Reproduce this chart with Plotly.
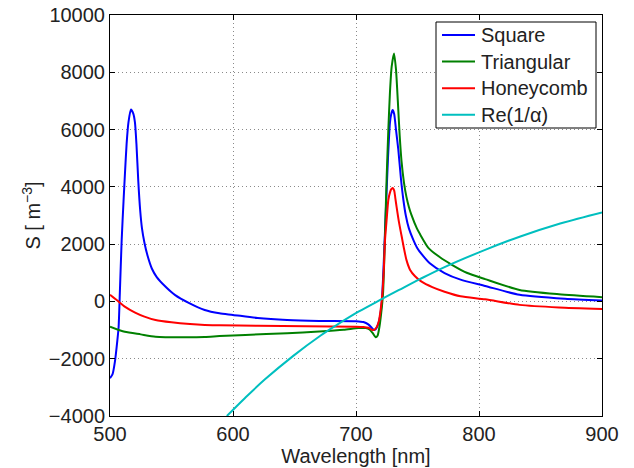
import plotly.graph_objects as go

# ---- data ----
square_wl = [500, 502, 504, 506, 507, 508, 509.5, 511, 512.2, 513.5, 515, 517, 519, 520.3, 521.5, 523,
             524.5, 526, 528, 530.5, 534, 538, 545, 553, 564, 577, 589, 600, 620, 644, 670, 700,
             706, 710, 713, 714.5, 716, 718, 719.5, 721, 722.5, 724.4, 726, 727.6, 728.7, 729.8,
             731, 732.5, 734.4, 736.5, 738.5, 740.5, 743, 746.6, 750, 753.4, 760, 772, 785, 805,
             833, 870, 900]
square_s = [-2680, -2550, -2100, -1350, -900, 300, 2150, 3500, 4500, 5500, 6250, 6700, 6550, 6240, 5500, 4200,
            3200, 2550, 2050, 1600, 1150, 850, 520, 220, -50, -300, -415, -470, -580, -650, -680, -690,
            -720, -800, -930, -1000, -970, -800, -530, 0, 1300, 3320, 5000, 6240, 6550, 6680,
            6550, 6000, 5300, 4300, 3550, 3000, 2550, 2150, 1850, 1650, 1330, 990, 760, 540,
            230, 90, 30]

tri_wl = [500, 512, 525, 537, 560, 577, 589, 610, 644, 670, 690, 702, 708, 711, 713.5, 716, 717.5,
          719, 720.5, 722, 723.5, 724.9, 726.3, 727.6, 729, 730.9, 732.5, 734, 735.5, 737, 739, 741,
          743, 745, 749.5, 752, 759, 768, 778, 790, 805, 833, 865, 900]
tri_s = [-880, -1060, -1150, -1230, -1250, -1240, -1210, -1170, -1110, -1050, -990, -930, -930, -980,
         -1100, -1250, -1200, -900, -400, 300, 2200, 4300, 6000, 7300, 8200, 8660, 8100, 7000, 5800,
         4900, 4150, 3650, 3300, 3030, 2550, 2350, 1860, 1550, 1280, 1000, 780, 400, 250, 150]

honey_wl = [500, 506, 512, 520, 528, 537, 550, 565, 577, 589, 620, 660, 700, 706, 710, 712.5, 714.5,
            716.5, 718.5, 720, 721.5, 722.5, 723.6, 725, 726.3, 727.6, 728.7, 729.8, 731, 732, 733,
            735, 737, 739, 741, 744, 748, 753, 762, 772, 785, 805, 833, 865, 900]
honey_s = [230, 30, -180, -380, -530, -650, -730, -790, -820, -830, -850, -870, -880, -890, -920, -980,
           -1000, -920, -700, -300, 300, 1000, 2150, 2900, 3550, 3800, 3920, 3960, 3880, 3600, 3300,
           2750, 2300, 1850, 1450, 1100, 880, 700, 500, 340, 180, 75, -120, -210, -260]

alpha_wl = [595, 610, 626, 649, 671, 683, 702, 720, 735, 752, 772, 805, 833, 866, 900]
alpha_s = [-4000, -3360, -2720, -1900, -1200, -860, -360, 60, 400, 780, 1200, 1800, 2260, 2720, 3110]

names = ["Square", "Triangular", "Honeycomb", "Re(1/α)"]
colors = ["#0000ff", "#008000", "#ff0000", "#00bfbf"]

x_ticks = [500, 600, 700, 800, 900]
y_ticks = [-4000, -2000, 0, 2000, 4000, 6000, 8000, 10000]
y_ticktext = [str(v).replace("-", "\u2212") for v in y_ticks]

FONT = "Liberation Sans, Arial, Helvetica, sans-serif"
TXT = "#222222"

W, H = 634, 468
ML, MR, MT, MB = 110, 32, 15, 52
PW, PH = W - ML - MR, H - MT - MB  # 492 x 401


def px2paper(px, py):
    return (px - ML) / PW, 1 - (py - MT) / PH


fig = go.Figure()
for wl, s, name, col in zip([square_wl, tri_wl, honey_wl, alpha_wl],
                            [square_s, tri_s, honey_s, alpha_s], names, colors):
    sm = 1.0 if name.startswith("Re") else 0.6
    fig.add_trace(go.Scatter(x=wl, y=s, name=name, mode="lines", showlegend=False,
                             line=dict(color=col, width=2, shape="spline", smoothing=sm)))

axis_common = dict(
    showline=True, linecolor="black", linewidth=1, mirror="ticks",
    ticks="inside", ticklen=5, tickcolor="black",
    showgrid=True, gridcolor="#8a8a8a", griddash="1px,3px", gridwidth=1,
    zeroline=False, tickfont=dict(size=20, color=TXT),
)

# ---- legend box drawn in paper coordinates ----
shapes = []
annotations = []
x0, y0 = px2paper(436, 22)
x1, y1 = px2paper(596, 128)
shapes.append(dict(type="rect", xref="paper", yref="paper", x0=x0, y0=y1, x1=x1, y1=y0,
                   line=dict(color="black", width=1), fillcolor="white", layer="above"))
for i, (name, col) in enumerate(zip(names, colors)):
    ly = 35 + i * 26.6
    lx0, lyy = px2paper(442, ly)
    lx1, _ = px2paper(475, ly)
    shapes.append(dict(type="line", xref="paper", yref="paper", x0=lx0, x1=lx1, y0=lyy, y1=lyy,
                       line=dict(color=col, width=2), layer="above"))
    tx, _ = px2paper(479, ly)
    annotations.append(dict(xref="paper", yref="paper", x=tx, y=lyy, xanchor="left",
                            yanchor="middle", text=name, showarrow=False,
                            font=dict(size=20, color=TXT, family=FONT)))

fig.update_layout(
    width=W, height=H,
    margin=dict(l=ML, r=MR, t=MT, b=MB, autoexpand=False),
    paper_bgcolor="white", plot_bgcolor="white",
    font=dict(family=FONT, size=20, color=TXT),
    showlegend=False,
    shapes=shapes, annotations=annotations,
    xaxis=dict(range=[500, 900], tickvals=x_ticks,
               title=dict(text="Wavelength [nm]", font=dict(size=20), standoff=0),
               **axis_common),
    yaxis=dict(range=[-4000, 10000], tickvals=y_ticks, ticktext=y_ticktext,
               ticklabeloverflow="allow",
               title=dict(text="S [ m<sup>\u22123</sup>]", font=dict(size=20), standoff=2),
               **axis_common),
)

fig.write_html("out.html", config={"displayModeBar": False},
               post_script="document.body.style.margin='0px';")
